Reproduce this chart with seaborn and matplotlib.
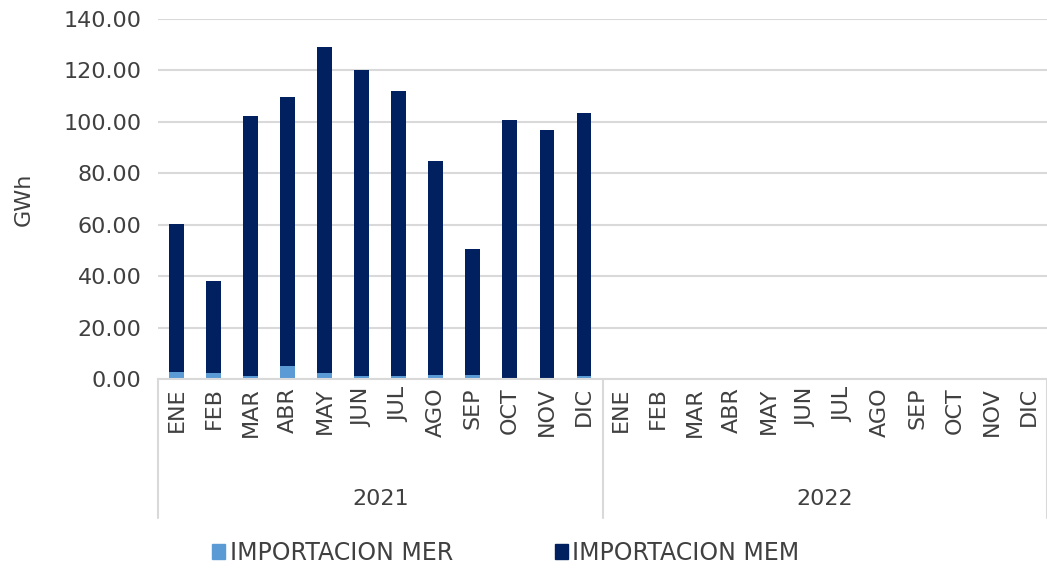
import matplotlib
matplotlib.use('Agg')
import matplotlib.pyplot as plt
from matplotlib.patches import Patch
import numpy as np
import pandas as pd
import seaborn as sns

sns.set_style('white')
plt.rcParams['font.family'] = ['DejaVu Sans']

# datos (GWh)
years = ['2021', '2022']
months = ['ENE', 'FEB', 'MAR', 'ABR', 'MAY', 'JUN', 'JUL', 'AGO', 'SEP', 'OCT', 'NOV', 'DIC']
total_2021 = [60.3, 38.1, 102.3, 109.7, 129.1, 120.2, 112.0, 84.8, 50.6, 100.7, 96.8, 103.5]
mer_2021 = [2.7, 2.2, 1.2, 5.0, 2.2, 1.2, 1.2, 1.7, 1.7, 0.0, 0.0, 1.2]
total_2022 = [0] * 12
mer_2022 = [0] * 12

col_mer = '#5B9BD5'
col_mem = '#002060'
txt = '#404040'

keys = [y + '-' + m for y in years for m in months]
df = pd.DataFrame({
    'key': keys,
    'total': total_2021 + total_2022,
    'mer': mer_2021 + mer_2022,
})

fig = plt.figure(figsize=(10.47, 5.73), dpi=100)
ax = fig.add_axes([158 / 1047, 1 - 379 / 573, (1047 - 158) / 1047, 360 / 573])

# apilado: total (MEM encima) y MER en la base
sns.barplot(data=df, x='key', y='total', order=keys, color=col_mem, width=0.4,
            saturation=1, linewidth=0, ax=ax)
sns.barplot(data=df, x='key', y='mer', order=keys, color=col_mer, width=0.4,
            saturation=1, linewidth=0, ax=ax)

ax.set_ylim(0, 140)
ax.set_xlim(-0.5, len(keys) - 0.5)
ax.set_yticks(np.arange(0, 141, 20))
ax.set_yticklabels(['{:.2f}'.format(v) for v in np.arange(0, 141, 20)], fontsize=16, color=txt)
ax.yaxis.grid(True, color='#D9D9D9', linewidth=1.5)
ax.set_axisbelow(True)
for s in ['top', 'right', 'left']:
    ax.spines[s].set_visible(False)
ax.spines['bottom'].set_color('#D9D9D9')
ax.spines['bottom'].set_linewidth(1.5)
ax.tick_params(axis='y', length=0, pad=12)
ax.tick_params(axis='x', length=0, pad=6)
ax.set_xticks(range(len(keys)))
ax.set_xticklabels(months * 2, rotation=90, fontsize=16, color=txt)
ax.set_xlabel('')
ax.set_ylabel('GWh', fontsize=16, color=txt)
ax.yaxis.set_label_coords(-0.14, 0.5)

# separadores de años y etiquetas de año
for b in [-0.5, 11.5, 23.5]:
    ax.plot([b, b], [0, -54], color='#D9D9D9', linewidth=1.5, clip_on=False)
for i, y in enumerate(years):
    ax.text(i * 12 + 5.5, -46.5, y, ha='center', va='center', fontsize=16, color=txt)

handles = [Patch(color=col_mer, label='IMPORTACION MER'),
           Patch(color=col_mem, label='IMPORTACION MEM')]
fig.legend(handles=handles, loc='center', bbox_to_anchor=(0.483, 0.035), ncol=2,
           frameon=False, fontsize=17, handlelength=0.55, handleheight=0.55,
           handletextpad=0.2, columnspacing=4.3, labelcolor=txt)

fig.savefig('out.png', dpi=100)
